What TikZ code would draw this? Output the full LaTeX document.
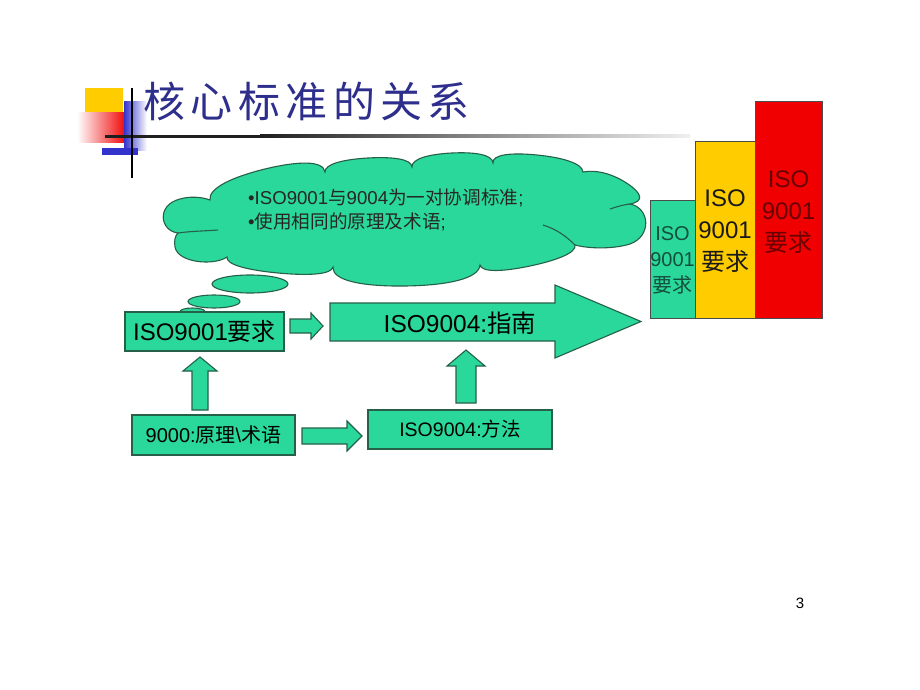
\documentclass[tikz,border=0pt]{standalone}
\usepackage{fontspec}
\usetikzlibrary{calc}
\setmainfont{Liberation Sans}
\newfontfamily\cjk{Noto Sans CJK SC}
\definecolor{tgreen}{RGB}{42,216,156}
\definecolor{tborder}{RGB}{38,96,72}
\definecolor{tyellow}{RGB}{255,204,0}
\definecolor{tred}{RGB}{240,0,0}
\definecolor{ttitle}{RGB}{46,46,140}
\definecolor{tblue}{RGB}{51,51,204}
\definecolor{tgtext}{RGB}{20,78,60}
\definecolor{trtext}{RGB}{105,0,0}
\newcommand{\fs}[1]{\fontsize{#1}{#1}\selectfont}
\newcommand{\lobe}[3]{.. controls ($0.65*(#1)+0.7*(#2)-0.35*(#3)$) and ($(#2)+0.28*(#1)-0.28*(#3)$) .. (#2) .. controls ($(#2)-0.28*(#1)+0.28*(#3)$) and ($0.65*(#3)+0.7*(#2)-0.35*(#1)$) .. (#3)}
\begin{document}
\begin{tikzpicture}[x=1pt,y=-1pt,
  box/.style={draw=tborder, fill=tgreen, line width=1.1pt, inner sep=0pt},
  barbox/.style={draw=black!70, line width=0.8pt, inner sep=0pt},
  blockarrow/.style={draw=tborder, fill=tgreen, line width=1.1pt, line join=miter},
  thought/.style={draw=tborder, fill=tgreen, line width=1.1pt},
  crease/.style={draw=tborder, line width=1.1pt}]
\useasboundingbox (0,0) rectangle (920,690);
\fill[white] (0,0) rectangle (920,690);

% title decoration
\fill[tyellow] (85,88) rectangle (123,113);
\shade[left color=white, right color=tred] (77,113) rectangle (127,142);
\shade[left color=tblue, right color=white] (124,102) rectangle (147,150);
\fill[tblue] (102,148) rectangle (138,155);
\fill[black!88] (105,134.5) rectangle (260,137.5);
\shade[left color=black!88, right color=black!6] (260,134.5) rectangle (690,137.5);
\draw[line width=2pt] (132,88) -- (132,178);
\node[anchor=west, text=ttitle, inner sep=0pt, font=\cjk\fs{42}\addfontfeatures{LetterSpace=13}] (title) at (143,101) {核心标准的关系};

% cloud: cusps c, lobe apexes m
\coordinate (c0) at (178,233);
\coordinate (c1) at (210,200);
\coordinate (c2) at (325,172);
\coordinate (c3) at (412,167);
\coordinate (c4) at (493,163);
\coordinate (c5) at (583,172);
\coordinate (c6) at (630,204);
\coordinate (c7) at (575,245);
\coordinate (c8) at (480,265);
\coordinate (c9) at (333,267);
\coordinate (c10) at (227,257);
\coordinate (m2) at (265,169);
\coordinate (m3) at (368,158);
\coordinate (m4) at (452,153);
\coordinate (m5) at (537,155);
\coordinate (m6) at (628,184);
\coordinate (m8) at (530,266);
\coordinate (m9) at (405,286);
\coordinate (m10) at (278,273);
\path[thought] (c0) .. controls (160,231) and (156,205) .. (180,199) .. controls (190,196) and (202,197) .. (c1)
  \lobe{c1}{m2}{c2} \lobe{c2}{m3}{c3} \lobe{c3}{m4}{c4}
  \lobe{c4}{m5}{c5} \lobe{c5}{m6}{c6}
  .. controls (650,208) and (652,236) .. (630,244) .. controls (614,249) and (590,249) .. (c7)
  \lobe{c7}{m8}{c8} \lobe{c8}{m9}{c9} \lobe{c9}{m10}{c10}
  .. controls (214,266) and (178,263) .. (175,247) .. controls (174,241) and (175,236) .. (c0) -- cycle;
\draw[crease] (c0) .. controls (192,231) and (206,231) .. (218,230);
\draw[crease] (c6) .. controls (622,205) and (616,207) .. (610,209);
\draw[crease] (c7) .. controls (566,236) and (556,229) .. (543,225);

% thought bubbles
\draw[thought] (250,284) ellipse [x radius=38pt, y radius=9pt];
\draw[thought] (214,301.5) ellipse [x radius=26pt, y radius=6.5pt];
\draw[thought] (192.5,311.5) ellipse [x radius=12.5pt, y radius=3.5pt];
\node[anchor=west, align=left, inner sep=0pt, text=black!85, font=\fs{18.6}] (cloudtext) at (248,210)
  {•ISO9001{\cjk 与}9004{\cjk 为一对协调标准};\\[5.5pt]•{\cjk 使用相同的原理及术语};};

% boxes
\node[box, minimum width=159pt, minimum height=39pt, font=\fs{24}] (req) at (204.5,331.5) {ISO9001{\cjk 要求}};
\node[box, minimum width=163pt, minimum height=40pt, font=\fs{20}] (vocab) at (213.5,435) {9000:{\cjk 原理}\textbackslash{\cjk 术语}};
\node[box, minimum width=184pt, minimum height=39pt, font=\fs{19.5}] (method) at (460,429.5) {ISO9004:{\cjk 方法}};

% block arrows
\path[blockarrow] (290,319) -- (311,319) -- (311,313) -- (323,326) -- (311,339) -- (311,333) -- (290,333) -- cycle;
\path[blockarrow] (330,303) -- (555,303) -- (555,285) -- (641,321.5) -- (555,358) -- (555,341) -- (330,341) -- cycle;
\node[inner sep=0pt, font=\fs{24.5}] (guide) at (460,323) {ISO9004:{\cjk 指南}};
\path[blockarrow] (192,410) -- (192,371) -- (183,371) -- (200,357) -- (217,371) -- (208,371) -- (208,410) -- cycle;
\path[blockarrow] (456,403) -- (456,366) -- (447,366) -- (466,350) -- (485,366) -- (476,366) -- (476,403) -- cycle;
\path[blockarrow] (302,428) -- (347,428) -- (347,421) -- (362,436) -- (347,451) -- (347,444) -- (302,444) -- cycle;

% bars
\node[barbox, fill=tgreen, minimum width=45pt, minimum height=118pt] (bar1) at (672.5,259) {};
\node[barbox, fill=tyellow, minimum width=60pt, minimum height=177pt] (bar2) at (725,229.5) {};
\node[barbox, fill=tred, minimum width=67pt, minimum height=217pt] (bar3) at (788.5,209.5) {};
\node[align=center, inner sep=0pt, text=tgtext, font=\fs{20}] (t1) at (672.5,260) {ISO\\[6pt]9001\\[6pt]{\cjk 要求}};
\node[align=center, inner sep=0pt, text=black!90, font=\fs{24}] (t2) at (725,231) {ISO\\[8pt]9001\\[8pt]{\cjk 要求}};
\node[align=center, inner sep=0pt, text=trtext, font=\fs{24}] (t3) at (788.5,212) {ISO\\[8pt]9001\\[8pt]{\cjk 要求}};

\node[font=\fs{15}] (page) at (800,603) {3};
\end{tikzpicture}
\end{document}
